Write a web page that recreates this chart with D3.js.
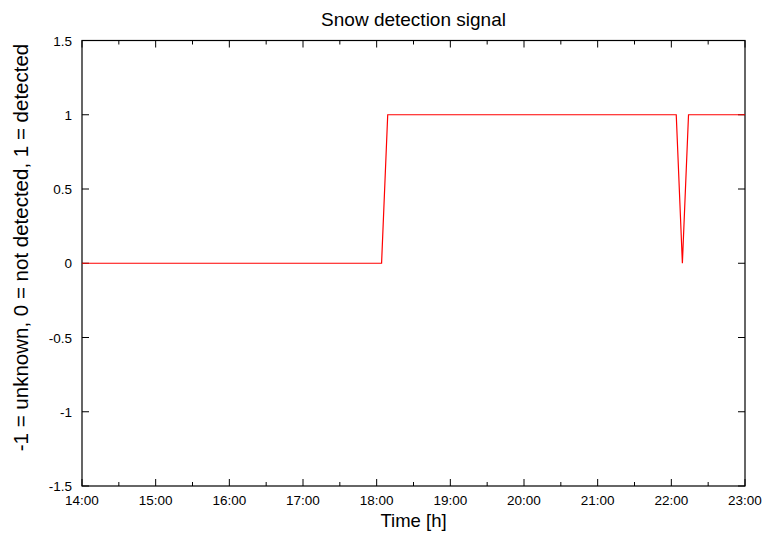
<!DOCTYPE html>
<html><head><meta charset="utf-8">
<script src="https://cdn.jsdelivr.net/npm/d3@7"></script>
<style>body{margin:0;background:#fff;} text{font-family:"Liberation Sans",Arial,sans-serif;}</style>
</head><body>
<svg id="c" width="765" height="536"></svg>
<script>
const times = ["14:00","18:04","18:09","22:04","22:09","22:14","23:00"];
const values = [0, 0, 1, 1, 0, 1, 1];
const yTicks = [-1.5,-1,-0.5,0,0.5,1,1.5];
const xTickLabels = ["14:00","15:00","16:00","17:00","18:00","19:00","20:00","21:00","22:00","23:00"];
const title = "Snow detection signal";
const xLabel = "Time [h]";
const yLabel = "-1 = unknown, 0 = not detected, 1 = detected";

const parse = d3.timeParse("%H:%M");
const svg = d3.select("#c");
const L=82, R=745, T=40.5, B=486;
const x = d3.scaleTime().domain([parse("14:00"), parse("23:00")]).range([L,R]);
const y = d3.scaleLinear().domain([-1.5,1.5]).range([B,T]);

svg.append("rect").attr("x",L).attr("y",T).attr("width",R-L).attr("height",B-T)
  .attr("fill","none").attr("stroke","#000").attr("stroke-width",1.2);

const major = xTickLabels.map(parse);
const minor = d3.range(0,9).map(i=>d3.timeMinute.offset(parse("14:30"), i*60));
const g = svg.append("g");
major.forEach(t=>{
  const px = x(t);
  g.append("line").attr("x1",px).attr("x2",px).attr("y1",B).attr("y2",B-7).attr("stroke","#000");
  g.append("line").attr("x1",px).attr("x2",px).attr("y1",T).attr("y2",T+7).attr("stroke","#000");
});
minor.forEach(t=>{
  const px = x(t);
  g.append("line").attr("x1",px).attr("x2",px).attr("y1",B).attr("y2",B-4).attr("stroke","#000");
  g.append("line").attr("x1",px).attr("x2",px).attr("y1",T).attr("y2",T+4).attr("stroke","#000");
});
yTicks.forEach(v=>{
  const py = y(v);
  g.append("line").attr("x1",L).attr("x2",L+7).attr("y1",py).attr("y2",py).attr("stroke","#000");
  g.append("line").attr("x1",R).attr("x2",R-7).attr("y1",py).attr("y2",py).attr("stroke","#000");
  g.append("text").attr("x",72).attr("y",py+5).attr("text-anchor","end")
    .attr("font-size",13.5).text(String(v));
});
xTickLabels.forEach(s=>{
  g.append("text").attr("x",x(parse(s))).attr("y",505).attr("text-anchor","middle")
    .attr("font-size",13.5).text(s);
});

svg.append("text").attr("x",(L+R)/2).attr("y",26).attr("text-anchor","middle").attr("font-size",19).text(title);
svg.append("text").attr("x",(L+R)/2).attr("y",527).attr("text-anchor","middle").attr("font-size",18.5).text(xLabel);
svg.append("text").attr("transform",`translate(27.5,247.5) rotate(-90)`).attr("text-anchor","middle").attr("font-size",20.5).text(yLabel);

const data = times.map((t,i)=>({t:parse(t), v:values[i]}));
svg.append("path").datum(data).attr("fill","none").attr("stroke","#ff0000").attr("stroke-width",1.2)
  .attr("d", d3.line().x(d=>x(d.t)).y(d=>y(d.v)));
</script>
</body></html>
